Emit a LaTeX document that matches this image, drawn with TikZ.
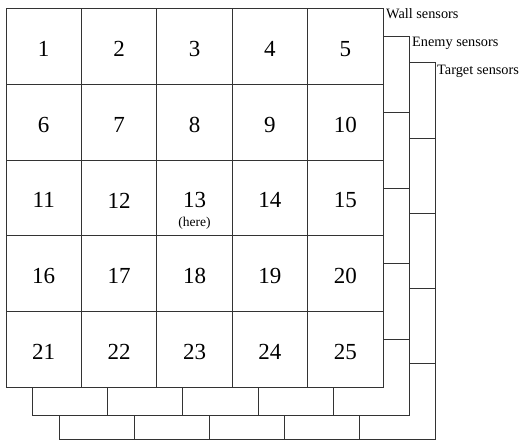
\documentclass[tikz,border=0pt]{standalone}
\usepackage{fontspec}
\setmainfont{Liberation Serif}
\begin{document}
\begin{tikzpicture}[x=1pt,y=-1pt,
  gridline/.style={draw=black!80, line width=1pt},
  cell/.style={gridline, fill=white, minimum width=75.4pt, minimum height=75.6pt, inner sep=0pt, outer sep=0pt, anchor=north west},
  backcell/.style={gridline, fill=white, minimum width=75.2pt, minimum height=75.2pt, inner sep=0pt, outer sep=0pt, anchor=north west},
  num/.style={font=\fontsize{23}{25}\selectfont, inner sep=0pt},
  note/.style={font=\fontsize{13.5}{15}\selectfont, inner sep=0pt},
  layerlabel/.style={font=\fontsize{14.3}{16}\selectfont, inner sep=0pt, anchor=west}]
\useasboundingbox (0,0) rectangle (524,441);
% target sensors layer
\foreach \r in {0,...,4}{\foreach \c in {0,...,4}{
  \node[backcell] (t\r\c) at (59+75.2*\c, 63+75.2*\r) {};
}}
% enemy sensors layer
\foreach \r in {0,...,4}{\foreach \c in {0,...,4}{
  \node[cell] (e\r\c) at (32+75.4*\c, 37+75.6*\r) {};
}}
% wall sensors layer (main grid)
\foreach \r in {0,...,4}{\foreach \c in {0,...,4}{
  \pgfmathtruncatemacro{\n}{5*\r+\c+1}
  \node[cell] (w\r\c) at (6+75.4*\c, 9+75.6*\r) {};
  \node[num] (n\n) at ([yshift=-2.4pt]w\r\c.center) {\n};
}}
\node[note] (here) at ([yshift=-25pt]w22.center) {(here)};
\node[layerlabel] (wall) at (386,14) {Wall sensors};
\node[layerlabel] (enemy) at (412,43) {Enemy sensors};
\node[layerlabel] (target) at (437,71) {Target sensors};
\end{tikzpicture}
\end{document}
